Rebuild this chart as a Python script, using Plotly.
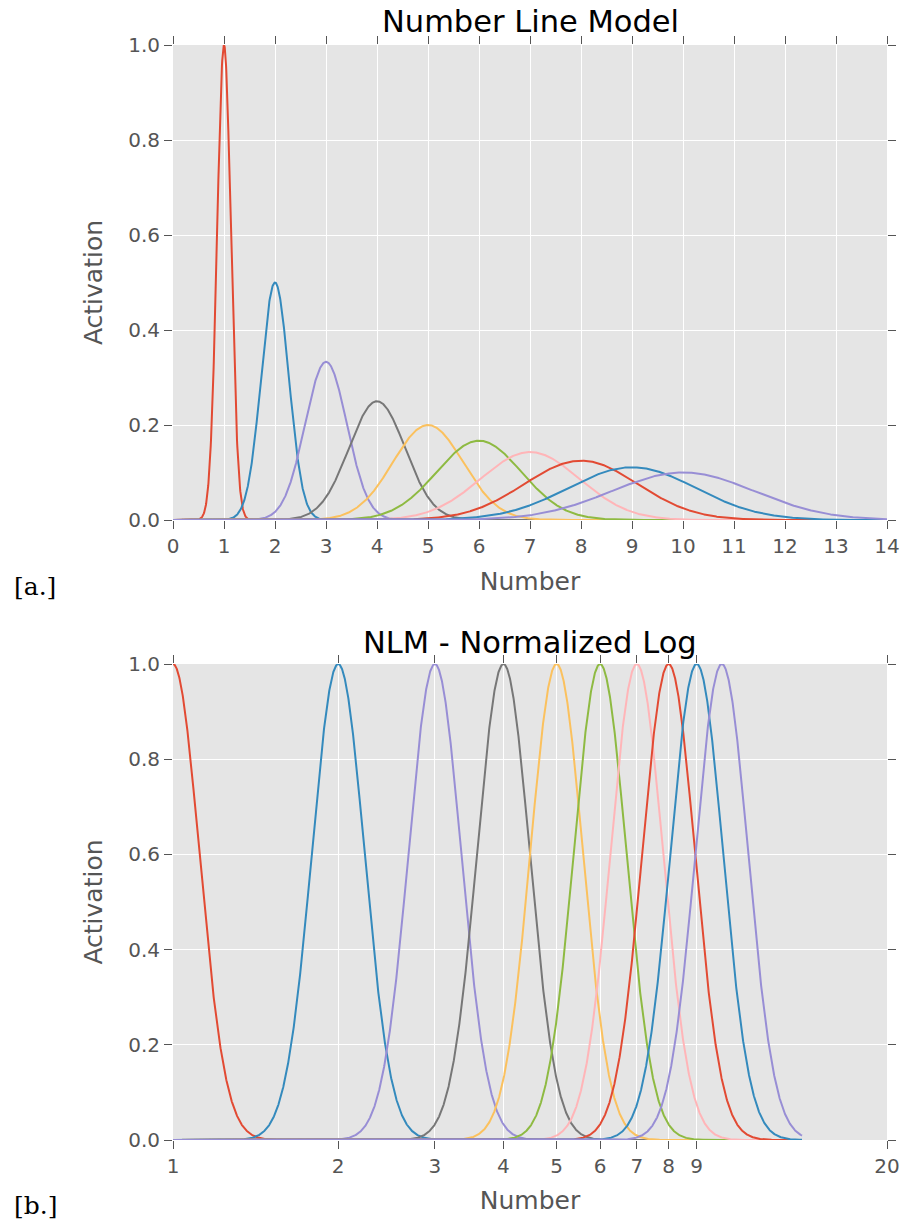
import numpy as np
import plotly.graph_objects as go

# ---- data ----
numbers = [1, 2, 3, 4, 5, 6, 7, 8, 9, 10]
colors = ["#E24A33", "#348ABD", "#988ED5", "#777777", "#FBC15E",
          "#8EBA42", "#FFB5B8", "#E24A33", "#348ABD", "#988ED5"]
peak_heights = [1.0, 0.50, 0.333, 0.25, 0.20, 0.167, 0.143, 0.125, 0.111, 0.10]
linear_sigma = [0.135, 0.27, 0.41, 0.55, 0.69, 0.83, 0.97, 1.11, 1.25, 1.40]
log_sigma = [0.11, 0.11, 0.11, 0.11, 0.11, 0.11, 0.11, 0.11, 0.11, 0.11]
top_x_ticks = list(range(0, 15))
bottom_x_ticks = [1, 2, 3, 4, 5, 6, 7, 8, 9, 20]
y_ticks = [0.0, 0.2, 0.4, 0.6, 0.8, 1.0]
x_min_top, x_max_top = 0, 14
x_min_bottom, x_max_bottom = 1, 14

W, H = 903, 1224
L, R, T, B = 173, 16, 45, 84
ph = H - T - B
def py(pix):
    return (H - B - pix) / ph
def px(pix):
    return (pix - L) / (W - L - R)

fig = go.Figure()

xs_top = np.linspace(x_min_top, x_max_top, 2801)
for n, c, a, s in zip(numbers, colors, peak_heights, linear_sigma):
    y = a * np.exp(-((xs_top - n) ** 2) / (2 * s ** 2))
    fig.add_trace(go.Scatter(x=xs_top, y=y, mode="lines", line=dict(color=c, width=2),
                             xaxis="x", yaxis="y", showlegend=False, hoverinfo="skip"))

xs_bot = np.exp(np.linspace(np.log(x_min_bottom), np.log(x_max_bottom), 3001))
for n, c, s in zip(numbers, colors, log_sigma):
    y = np.exp(-((np.log(xs_bot) - np.log(n)) ** 2) / (2 * s ** 2))
    fig.add_trace(go.Scatter(x=xs_bot, y=y, mode="lines", line=dict(color=c, width=2),
                             xaxis="x2", yaxis="y2", showlegend=False, hoverinfo="skip"))

tickfont = dict(family="DejaVu Sans", size=20, color="#555555")
titlefont = dict(family="DejaVu Sans", size=25, color="#555555")
common = dict(showgrid=True, gridcolor="white", gridwidth=1.4, zeroline=False,
              showline=False, ticks="outside", ticklen=8, tickwidth=1.3,
              tickcolor="#555555", mirror="ticks", tickfont=tickfont,
              automargin=False)

top_dom = [py(520), 1.0]
bot_dom = [0.0, py(664)]

fig.update_layout(
    width=W, height=H, autosize=False,
    margin=dict(l=L, r=R, t=T, b=B, autoexpand=False),
    paper_bgcolor="white", plot_bgcolor="#E5E5E5",
    xaxis=dict(domain=[0, 1], anchor="y", range=[x_min_top, x_max_top],
               tickvals=top_x_ticks, ticktext=[str(t) for t in top_x_ticks],
               title=dict(text="Number", font=titlefont, standoff=15), **common),
    yaxis=dict(domain=top_dom, anchor="x", range=[0, 1.0], tickvals=y_ticks,
               ticktext=[f"{v:.1f}" for v in y_ticks],
               title=dict(text="Activation", font=titlefont, standoff=18), **common),
    xaxis2=dict(domain=[0, 1], anchor="y2", type="log",
                range=[np.log10(1), np.log10(20)],
                tickvals=bottom_x_ticks, ticktext=[str(t) for t in bottom_x_ticks],
                title=dict(text="Number", font=titlefont, standoff=14), **common),
    yaxis2=dict(domain=bot_dom, anchor="x2", range=[0, 1.0], tickvals=y_ticks,
                ticktext=[f"{v:.1f}" for v in y_ticks],
                title=dict(text="Activation", font=titlefont, standoff=18), **common),
)

ann_title = dict(family="DejaVu Sans", size=30.5, color="black")
label_font = dict(family="DejaVu Serif", size=25, color="black")
fig.add_annotation(text="Number Line Model", xref="paper", yref="paper",
                   x=0.5, y=py(21), xanchor="center", yanchor="middle",
                   showarrow=False, font=ann_title)
fig.add_annotation(text="NLM - Normalized Log", xref="paper", yref="paper",
                   x=0.5, y=py(642), xanchor="center", yanchor="middle",
                   showarrow=False, font=ann_title)
fig.add_annotation(text="[a.]", xref="paper", yref="paper",
                   x=px(12), y=py(586), xanchor="left", yanchor="middle",
                   showarrow=False, font=label_font)
fig.add_annotation(text="[b.]", xref="paper", yref="paper",
                   x=px(12), y=py(1205), xanchor="left", yanchor="middle",
                   showarrow=False, font=label_font)

fig.write_html("out.html")
